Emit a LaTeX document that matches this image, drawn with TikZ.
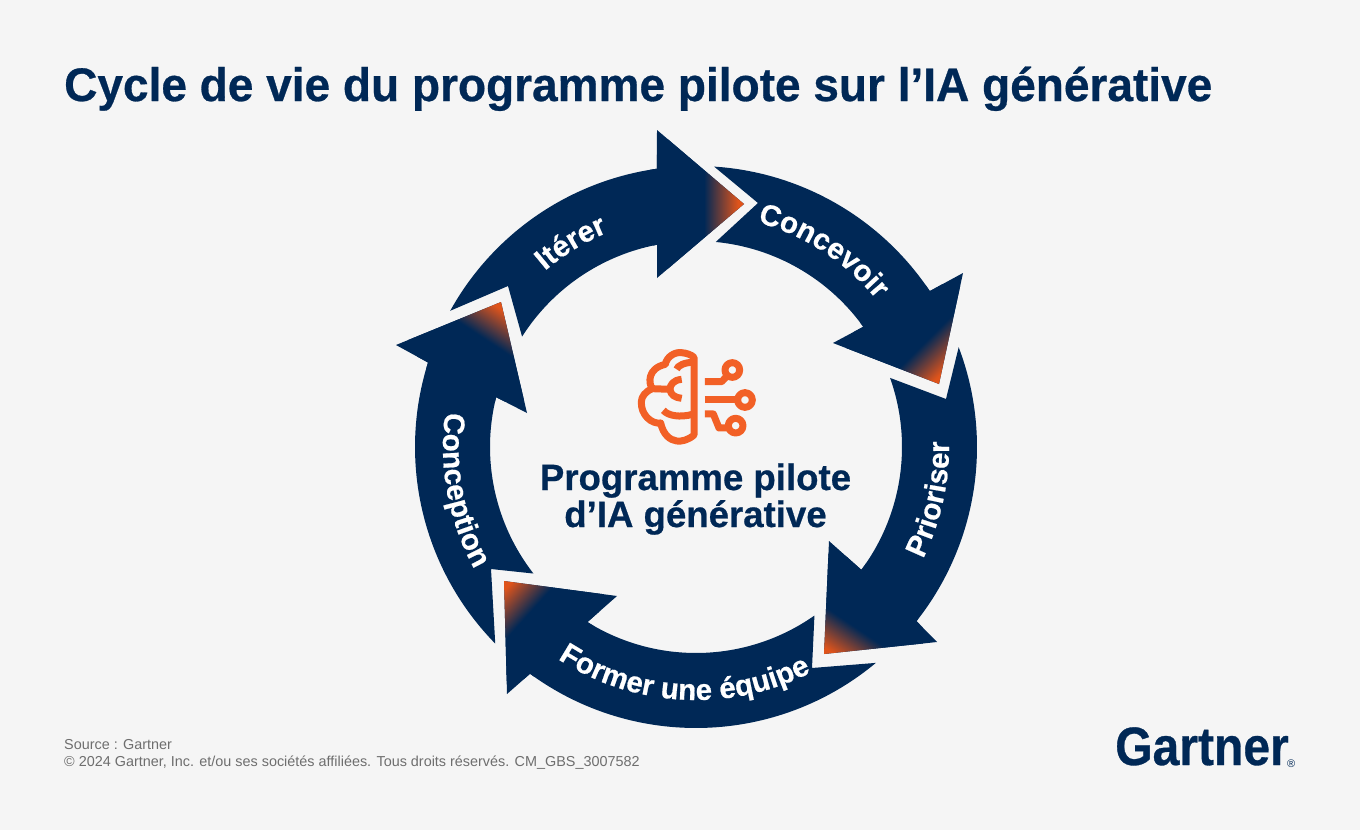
\documentclass[tikz,border=0pt]{standalone}
\usepackage{fontspec}
\setmainfont{Liberation Sans}[BoldFeatures={FakeBold=0.6}]
\usetikzlibrary{decorations.text,calc}
\definecolor{navyc}{HTML}{002856}
\definecolor{orc}{HTML}{DF541B}
\definecolor{iconc}{HTML}{F26026}
\definecolor{bgc}{HTML}{F5F5F5}
\definecolor{notec}{HTML}{6E6E6E}
\pgfdeclareverticalshading{tipfade}{100bp}{color(0bp)=(navyc); color(40bp)=(navyc); color(48.5bp)=(orc); color(100bp)=(orc)}
\newcommand{\ringpath}[8]{(696,447)+(#1:281) arc[start angle=#1,end angle=#2,radius=281] -- (#3) -- (#4) -- (#5) -- ($(696,447)+(#6:206)$) arc[start angle=#6,end angle=#7,radius=206] -- (#8) -- cycle}
\newcommand{\ringarrow}[9]{%
  \fill[navyc] \ringpath{#1}{#2}{#3}{#4}{#5}{#6}{#7}{#8};
  \begin{scope}
    \clip \ringpath{#1}{#2}{#3}{#4}{#5}{#6}{#7}{#8};
    \shade[shading=tipfade,shading angle=#9] (#4) circle[radius=100];
  \end{scope}}
\newcommand{\bandfont}{\fontsize{29.5}{29.5}\selectfont\bfseries}
\tikzset{
  bandtext/.style={decorate,decoration={text along path,text={|\bandfont|#1},text color=white,text align=center}},
  iconline/.style={draw=iconc,line width=7,line cap=butt,line join=round,fill=none},
  headline/.style={text=navyc,font=\fontsize{47}{47}\selectfont\bfseries,inner sep=0},
  centerline/.style={text=navyc,font=\fontsize{36.6}{36.6}\selectfont\bfseries,inner sep=0},
  noteline/.style={text=notec,font=\fontsize{14.4}{14.4}\selectfont,inner sep=0}
}
\begin{document}
\begin{tikzpicture}[x=1pt,y=-1pt]
\useasboundingbox (0,0) rectangle (1360,830);
\fill[bgc] (0,0) rectangle (1360,830);
\node[headline,anchor=base west] (title) at (64,101) {\scalebox{0.979}[1]{Cycle de vie du programme pilote sur l’IA générative}};
% Iterer
\ringarrow{209}{262}{657,130}{744,204}{657,278}{259.1}{212.4}{508,286}{-90}
% Concevoir
\ringarrow{273.7}{326.3}{963,273}{939,384}{833,343}{324.3}{275.5}{758,203}{-135}
% Prioriser
\ringarrow{339.2}{398.3}{937,642}{824,654}{829,541}{396.6}{340.4}{946,399}{146}
% Former
\ringarrow{50.2}{126.2}{507,694}{504,581}{617,596}{121.8}{54.9}{812,668}{48}
% Conception
\ringarrow{135.6}{197.5}{396,345}{501,302}{527,413}{194}{142.1}{491,569}{-33.4}
% band labels
\path[bandtext={Itérer}] (696,447)+(206:232) arc[start angle=206,end angle=271,radius=232];
\path[bandtext={Concevoir}] (696,447)+(269:233) arc[start angle=269,end angle=337,radius=233];
\path[bandtext={Prioriser}] (696,447)+(50:253) arc[start angle=50,end angle=-25,radius=253];
\path[bandtext={Former une équipe}] (696,447)+(135:253) arc[start angle=135,end angle=51,radius=253];
\path[bandtext={Conception}] (696,447)+(205:253) arc[start angle=205,end angle=134,radius=253];
% icon
\begin{scope}[shift={(620,335)},scale=0.3333]
\draw[iconline] (222,300) .. controls (205,315) and (185,320) .. (170,318) .. controls (150,315) and (130,300) .. (122,264) .. controls (95,268) and (62,240) .. (64,200) .. controls (65,185) and (75,170) .. (97,161) .. controls (85,145) and (82,100) .. (136,88) .. controls (140,65) and (165,50) .. (185,53) .. controls (200,54) and (215,60) .. (222,67) -- cycle;
\draw[iconline] (170,103) .. controls (172,92) and (195,82) .. (218,82);
\draw[iconline] (97,161) -- (150,163);
\draw[iconline] (185,133) .. controls (160,135) and (150,150) .. (150,163) .. controls (152,180) and (165,188) .. (185,190);
\draw[iconline] (130,226) .. controls (145,243) and (180,248) .. (218,238);
\draw[iconline] (255,140) -- (305,140) -- (322,122);
\draw[iconline] (337,105) circle[radius=22];
\draw[iconline] (255,195) -- (352,195);
\draw[iconline] (375,195) circle[radius=22];
\draw[iconline] (255,237) -- (280,237) -- (297,279) -- (325,279);
\draw[iconline] (347,272) circle[radius=22];
\end{scope}
\node[centerline,anchor=base] (c1) at (695.5,490) {Programme pilote};
\node[centerline,anchor=base] (c2) at (695.5,527) {d’IA générative};
\node[noteline,anchor=base west] (n1) at (64,749) {Source : Gartner};
\node[noteline,anchor=base west] (n2) at (64,766) {© 2024 Gartner, Inc. et/ou ses sociétés affiliées. Tous droits réservés. CM\_GBS\_3007582};
\node[anchor=base west,inner sep=0,text=navyc,font=\fontsize{54}{54}\selectfont\bfseries] (logo) at (1115,765) {\scalebox{0.89}[1]{Gartner}};
\node[anchor=base west,inner sep=0,text=navyc,font=\fontsize{11}{11}\selectfont] (reg) at (1287,767) {®};
\end{tikzpicture}
\end{document}
